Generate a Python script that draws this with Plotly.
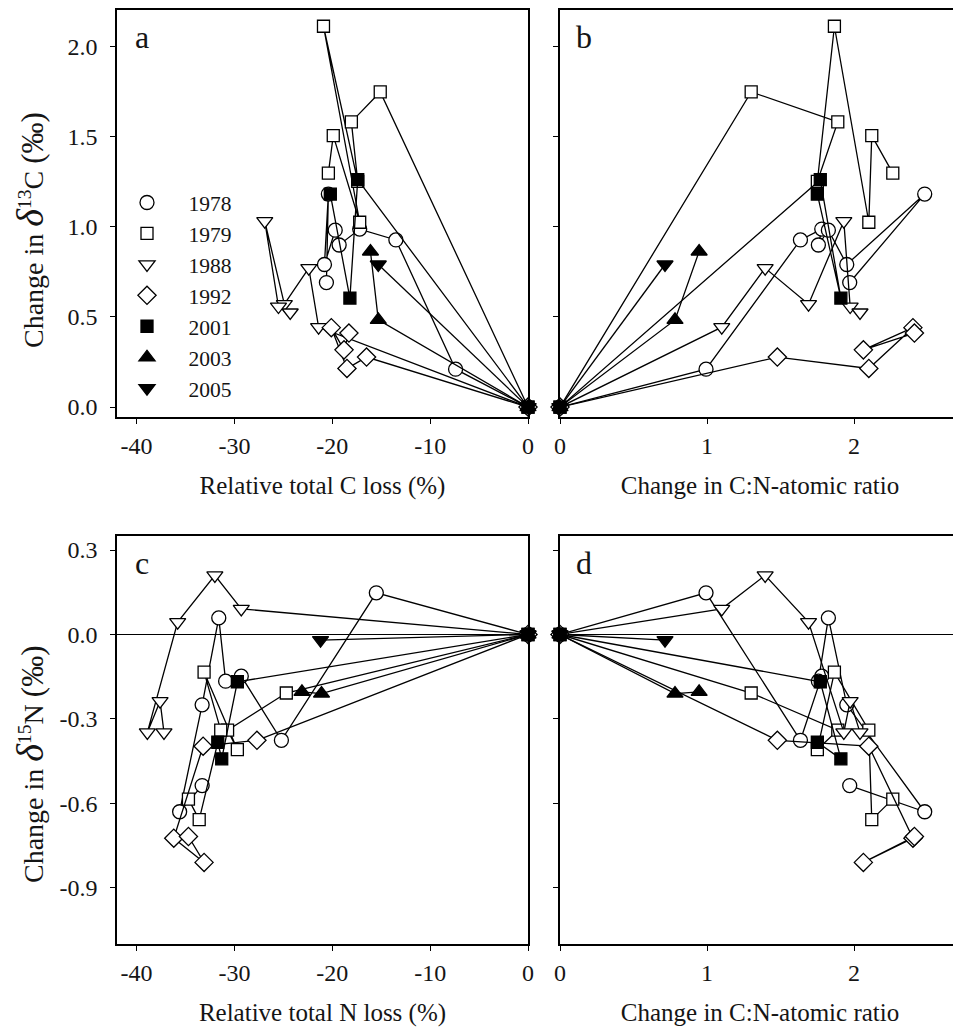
import plotly.graph_objects as go

# ---------------- data (first point of every series is the origin) ----------------
years = ["1978", "1979", "1988", "1992", "2001", "2003", "2005"]

# relative total C loss (%)  -> panel a
c_loss_1978 = [0, -7.4, -13.5, -17.2, -19.3, -19.7, -20.8, -20.4, -20.6]
c_loss_1979 = [0, -15.1, -18.05, -17.4, -20.9, -17.2, -19.9, -20.4]
c_loss_1988 = [0, -21.4, -22.4, -24.9, -26.9, -25.5, -24.3]
c_loss_1992 = [0, -16.5, -18.5, -20.1, -18.8, -18.3]
c_loss_2001 = [0, -17.4, -18.2, -20.2]
c_loss_2003 = [0, -15.3, -16.1]
c_loss_2005 = [0, -15.3]

# change in delta13C (permil) -> panels a, b
d13c_1978 = [0, 0.21, 0.926, 0.986, 0.898, 0.98, 0.79, 1.18, 0.69]
d13c_1979 = [0, 1.746, 1.58, 1.25, 2.11, 1.024, 1.504, 1.296]
d13c_1988 = [0, 0.443, 0.77, 0.57, 1.03, 0.557, 0.524]
d13c_1992 = [0, 0.277, 0.214, 0.44, 0.317, 0.41]
d13c_2001 = [0, 1.26, 0.604, 1.18]
d13c_2003 = [0, 0.483, 0.862]
d13c_2005 = [0, 0.79]

# change in C:N atomic ratio -> panels b, d
cn_1978 = [0, 0.993, 1.635, 1.78, 1.757, 1.825, 1.95, 2.48, 1.97]
cn_1979 = [0, 1.30, 1.889, 1.75, 1.866, 2.10, 2.12, 2.263]
cn_1988 = [0, 1.10, 1.395, 1.69, 1.93, 1.973, 2.04]
cn_1992 = [0, 1.478, 2.10, 2.40, 2.063, 2.41]
cn_2001 = [0, 1.77, 1.91, 1.75]
cn_2003 = [0, 0.782, 0.946]
cn_2005 = [0, 0.714]

# relative total N loss (%) -> panel c
n_loss_1978 = [0, -15.5, -25.2, -29.3, -30.9, -31.6, -33.3, -35.6, -33.3]
n_loss_1979 = [0, -24.7, -30.7, -29.7, -33.1, -31.4, -33.6, -34.7]
n_loss_1988 = [0, -29.3, -32.0, -35.8, -38.9, -37.6, -37.2]
n_loss_1992 = [0, -27.7, -33.2, -36.2, -33.1, -34.7]
n_loss_2001 = [0, -29.7, -31.3, -31.7]
n_loss_2003 = [0, -21.1, -23.1]
n_loss_2005 = [0, -21.2]

# change in delta15N (permil) -> panels c, d
d15n_1978 = [0, 0.148, -0.376, -0.148, -0.166, 0.059, -0.25, -0.63, -0.537]
d15n_1979 = [0, -0.208, -0.34, -0.409, -0.134, -0.34, -0.658, -0.585]
d15n_1988 = [0, 0.091, 0.21, 0.044, -0.348, -0.237, -0.348]
d15n_1992 = [0, -0.376, -0.397, -0.724, -0.81, -0.718]
d15n_2001 = [0, -0.168, -0.442, -0.383]
d15n_2003 = [0, -0.21, -0.204]
d15n_2005 = [0, -0.02]

# tick labels
loss_ticks = [-40, -30, -20, -10, 0]
loss_ticktext = ["-40", "-30", "-20", "-10", "0"]
cn_ticks = [0, 1, 2]
cn_ticktext = ["0", "1", "2"]
c13_ticks = [0, 0.5, 1.0, 1.5, 2.0]
c13_ticktext = ["0.0", "0.5", "1.0", "1.5", "2.0"]
n15_ticks = [0.3, 0, -0.3, -0.6, -0.9]
n15_ticktext = ["0.3", "0.0", "-0.3", "-0.6", "-0.9"]

c_loss = [c_loss_1978, c_loss_1979, c_loss_1988, c_loss_1992, c_loss_2001, c_loss_2003, c_loss_2005]
d13c = [d13c_1978, d13c_1979, d13c_1988, d13c_1992, d13c_2001, d13c_2003, d13c_2005]
cn = [cn_1978, cn_1979, cn_1988, cn_1992, cn_2001, cn_2003, cn_2005]
n_loss = [n_loss_1978, n_loss_1979, n_loss_1988, n_loss_1992, n_loss_2001, n_loss_2003, n_loss_2005]
d15n = [d15n_1978, d15n_1979, d15n_1988, d15n_1992, d15n_2001, d15n_2003, d15n_2005]

# ---------------- styles ----------------
symbols = ["circle", "square", "triangle-down", "diamond", "square", "triangle-up", "triangle-down"]
fills = ["white", "white", "white", "white", "black", "black", "black"]
sizes = [14, 12, 14, 14, 12, 14, 14]

FONT = "Liberation Serif, Times New Roman, serif"
TXT = "#151515"

fig = go.Figure()

panels = [
    ("x", "y", c_loss, d13c),
    ("x2", "y2", cn, d13c),
    ("x3", "y3", n_loss, d15n),
    ("x4", "y4", cn, d15n),
]

for xa, ya, xs, ys in panels:
    for i, yr in enumerate(years):
        fig.add_trace(go.Scatter(
            x=xs[i], y=ys[i], xaxis=xa, yaxis=ya,
            mode="lines+markers",
            line=dict(color="black", width=1.3),
            marker=dict(symbol=symbols[i], size=sizes[i], color=fills[i],
                        line=dict(color="black", width=1.3)),
            showlegend=False, cliponaxis=False, hoverinfo="skip",
        ))

# legend-only entries
for i, yr in enumerate(years):
    fig.add_trace(go.Scatter(
        x=[None], y=[None], xaxis="x", yaxis="y", mode="markers",
        name="\u00a0\u00a0\u00a0\u00a0" + yr,
        marker=dict(symbol=symbols[i], size=sizes[i], color=fills[i],
                    line=dict(color="black", width=1.3)),
        showlegend=True,
    ))

W, H = 961, 1032
OFF = 8  # the page body adds an 8 px margin
xa_dom = [(117 - OFF) / W, (528 - OFF) / W]
xb_dom = [(560 - OFF) / W, (960 - OFF) / W]
ytop_dom = [1 - (417 - OFF) / H, 1 - (10 - OFF) / H]
ybot_dom = [1 - (944 - OFF) / H, 1 - (536 - OFF) / H]

axis_common = dict(showline=True, linecolor="black", linewidth=1.6, mirror=True,
                   ticks="outside", ticklen=5, tickwidth=1.3, tickcolor="black",
                   showgrid=False, zeroline=False, automargin=False,
                   tickfont=dict(family=FONT, size=24, color=TXT),
                   title_font=dict(family=FONT, size=25, color=TXT))

xaxis_extra = dict(ticklabelstandoff=1)
yaxis_extra = dict(ticklabelstandoff=8)

title_c13 = ("Change in <span style='font-size:38px'><i>δ</i></span>"
             "<sup>13</sup>C <span style='font-size:31px'>(‰)</span>")
title_n15 = ("Change in <span style='font-size:38px'><i>δ</i></span>"
             "<sup>15</sup>N <span style='font-size:31px'>(‰)</span>")

fig.update_layout(
    template="none",
    width=W, height=H, margin=dict(l=0, r=0, t=0, b=0, pad=0),
    paper_bgcolor="white", plot_bgcolor="white",
    font=dict(family=FONT, size=24, color=TXT),
    xaxis=dict(axis_common, **xaxis_extra, domain=xa_dom, anchor="y", range=[-42, 0],
               tickvals=loss_ticks, ticktext=loss_ticktext,
               title=dict(text="Relative total C loss (%)", standoff=19)),
    yaxis=dict(axis_common, **yaxis_extra, domain=ytop_dom, anchor="x", range=[-0.055, 2.2],
               tickvals=c13_ticks, ticktext=c13_ticktext),
    xaxis2=dict(axis_common, **xaxis_extra, domain=xb_dom, anchor="y2", range=[0, 2.72],
                tickvals=cn_ticks, ticktext=cn_ticktext,
                title=dict(text="Change in C:N-atomic ratio", standoff=19)),
    yaxis2=dict(axis_common, domain=ytop_dom, anchor="x2", range=[-0.055, 2.2],
                tickvals=c13_ticks, showticklabels=False),
    xaxis3=dict(axis_common, **xaxis_extra, domain=xa_dom, anchor="y3", range=[-42, 0],
                tickvals=loss_ticks, ticktext=loss_ticktext,
                title=dict(text="Relative total N loss (%)", standoff=19)),
    yaxis3=dict(axis_common, **yaxis_extra, domain=ybot_dom, anchor="x3", range=[-1.1, 0.35],
                tickvals=n15_ticks, ticktext=n15_ticktext,
                zeroline=True, zerolinecolor="black", zerolinewidth=1.3),
    xaxis4=dict(axis_common, **xaxis_extra, domain=xb_dom, anchor="y4", range=[0, 2.72],
                tickvals=cn_ticks, ticktext=cn_ticktext,
                title=dict(text="Change in C:N-atomic ratio", standoff=19)),
    yaxis4=dict(axis_common, domain=ybot_dom, anchor="x4", range=[-1.1, 0.35],
                tickvals=n15_ticks, showticklabels=False,
                zeroline=True, zerolinecolor="black", zerolinewidth=1.3),
    legend=dict(x=119 / W, y=1 - 174 / H, xanchor="left", yanchor="top",
                bgcolor="rgba(0,0,0,0)", borderwidth=0,
                font=dict(family=FONT, size=21.5, color=TXT),
                tracegroupgap=0, itemwidth=30),
)

# y-axis titles placed as rotated annotations
for text, cy in [(title_c13, 230), (title_n15, 765)]:
    fig.add_annotation(text=text, xref="paper", yref="paper",
                       x=(30 - OFF) / W, y=1 - (cy - OFF) / H,
                       xanchor="center", yanchor="middle", textangle=-90,
                       showarrow=False, font=dict(family=FONT, size=28, color=TXT))

for ref, letter in [("x", "a"), ("x2", "b"), ("x3", "c"), ("x4", "d")]:
    yref = ref.replace("x", "y")
    fig.add_annotation(text=letter, xref=ref + " domain", yref=yref + " domain",
                       x=0.06, y=0.933, xanchor="center", yanchor="middle",
                       showarrow=False, font=dict(family=FONT, size=32, color=TXT))

fig.write_html("out.html")
